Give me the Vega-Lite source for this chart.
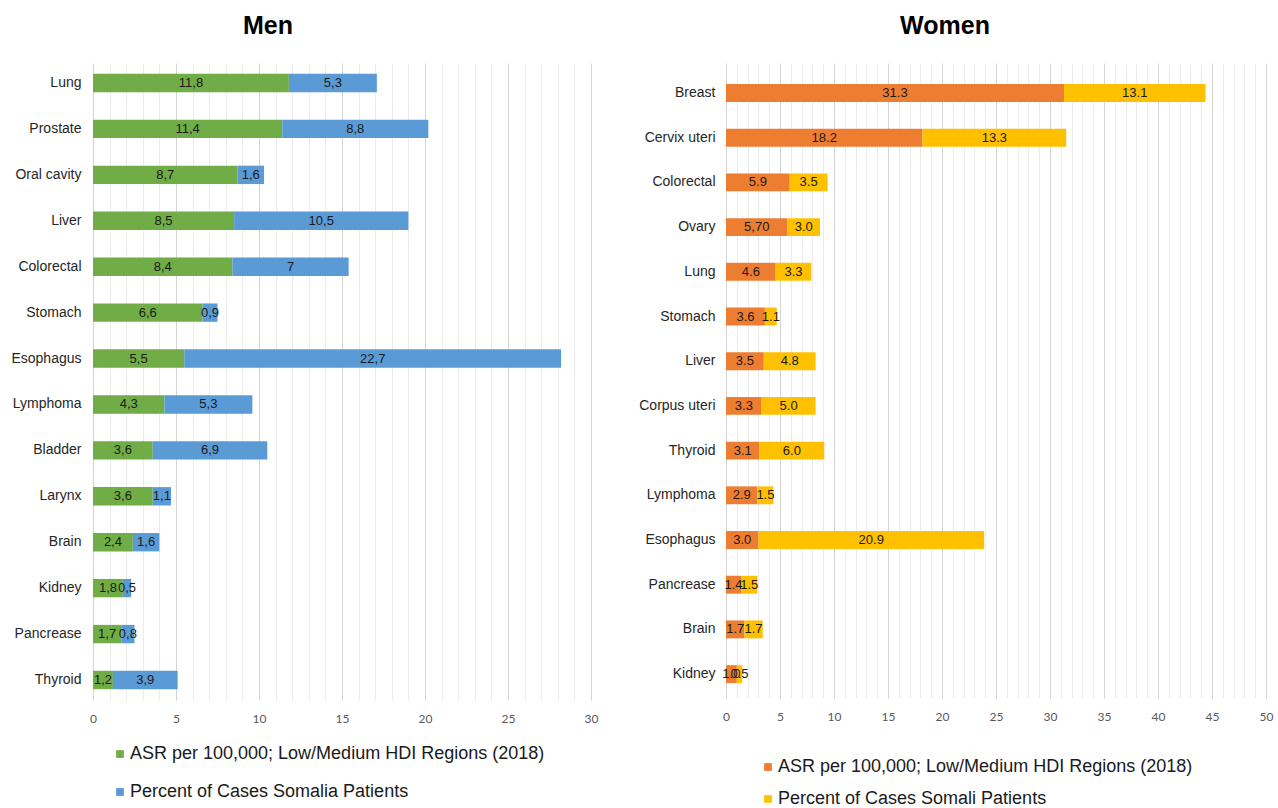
{
  "$schema": "https://vega.github.io/schema/vega-lite/v6.json",
  "background": "white",
  "padding": {"left": 5, "top": 14, "right": 5, "bottom": 5},
  "datasets": {
    "men": [
      {"cancer": "Lung", "series": "ASR per 100,000; Low/Medium HDI Regions (2018)", "ord": 0, "value": 11.8, "label": "11,8"},
      {"cancer": "Lung", "series": "Percent of Cases Somalia Patients", "ord": 1, "value": 5.3, "label": "5,3"},
      {"cancer": "Prostate", "series": "ASR per 100,000; Low/Medium HDI Regions (2018)", "ord": 0, "value": 11.4, "label": "11,4"},
      {"cancer": "Prostate", "series": "Percent of Cases Somalia Patients", "ord": 1, "value": 8.8, "label": "8,8"},
      {"cancer": "Oral cavity", "series": "ASR per 100,000; Low/Medium HDI Regions (2018)", "ord": 0, "value": 8.7, "label": "8,7"},
      {"cancer": "Oral cavity", "series": "Percent of Cases Somalia Patients", "ord": 1, "value": 1.6, "label": "1,6"},
      {"cancer": "Liver", "series": "ASR per 100,000; Low/Medium HDI Regions (2018)", "ord": 0, "value": 8.5, "label": "8,5"},
      {"cancer": "Liver", "series": "Percent of Cases Somalia Patients", "ord": 1, "value": 10.5, "label": "10,5"},
      {"cancer": "Colorectal", "series": "ASR per 100,000; Low/Medium HDI Regions (2018)", "ord": 0, "value": 8.4, "label": "8,4"},
      {"cancer": "Colorectal", "series": "Percent of Cases Somalia Patients", "ord": 1, "value": 7, "label": "7"},
      {"cancer": "Stomach", "series": "ASR per 100,000; Low/Medium HDI Regions (2018)", "ord": 0, "value": 6.6, "label": "6,6"},
      {"cancer": "Stomach", "series": "Percent of Cases Somalia Patients", "ord": 1, "value": 0.9, "label": "0,9"},
      {"cancer": "Esophagus", "series": "ASR per 100,000; Low/Medium HDI Regions (2018)", "ord": 0, "value": 5.5, "label": "5,5"},
      {"cancer": "Esophagus", "series": "Percent of Cases Somalia Patients", "ord": 1, "value": 22.7, "label": "22,7"},
      {"cancer": "Lymphoma", "series": "ASR per 100,000; Low/Medium HDI Regions (2018)", "ord": 0, "value": 4.3, "label": "4,3"},
      {"cancer": "Lymphoma", "series": "Percent of Cases Somalia Patients", "ord": 1, "value": 5.3, "label": "5,3"},
      {"cancer": "Bladder", "series": "ASR per 100,000; Low/Medium HDI Regions (2018)", "ord": 0, "value": 3.6, "label": "3,6"},
      {"cancer": "Bladder", "series": "Percent of Cases Somalia Patients", "ord": 1, "value": 6.9, "label": "6,9"},
      {"cancer": "Larynx", "series": "ASR per 100,000; Low/Medium HDI Regions (2018)", "ord": 0, "value": 3.6, "label": "3,6"},
      {"cancer": "Larynx", "series": "Percent of Cases Somalia Patients", "ord": 1, "value": 1.1, "label": "1,1"},
      {"cancer": "Brain", "series": "ASR per 100,000; Low/Medium HDI Regions (2018)", "ord": 0, "value": 2.4, "label": "2,4"},
      {"cancer": "Brain", "series": "Percent of Cases Somalia Patients", "ord": 1, "value": 1.6, "label": "1,6"},
      {"cancer": "Kidney", "series": "ASR per 100,000; Low/Medium HDI Regions (2018)", "ord": 0, "value": 1.8, "label": "1,8"},
      {"cancer": "Kidney", "series": "Percent of Cases Somalia Patients", "ord": 1, "value": 0.5, "label": "0,5"},
      {"cancer": "Pancrease", "series": "ASR per 100,000; Low/Medium HDI Regions (2018)", "ord": 0, "value": 1.7, "label": "1,7"},
      {"cancer": "Pancrease", "series": "Percent of Cases Somalia Patients", "ord": 1, "value": 0.8, "label": "0,8"},
      {"cancer": "Thyroid", "series": "ASR per 100,000; Low/Medium HDI Regions (2018)", "ord": 0, "value": 1.2, "label": "1,2"},
      {"cancer": "Thyroid", "series": "Percent of Cases Somalia Patients", "ord": 1, "value": 3.9, "label": "3,9"}
    ],
    "women": [
      {"cancer": "Breast", "series": "ASR per 100,000; Low/Medium HDI Regions (2018) ", "ord": 0, "value": 31.3, "label": "31.3"},
      {"cancer": "Breast", "series": "Percent of Cases Somali Patients", "ord": 1, "value": 13.1, "label": "13.1"},
      {"cancer": "Cervix uteri", "series": "ASR per 100,000; Low/Medium HDI Regions (2018) ", "ord": 0, "value": 18.2, "label": "18.2"},
      {"cancer": "Cervix uteri", "series": "Percent of Cases Somali Patients", "ord": 1, "value": 13.3, "label": "13.3"},
      {"cancer": "Colorectal", "series": "ASR per 100,000; Low/Medium HDI Regions (2018) ", "ord": 0, "value": 5.9, "label": "5.9"},
      {"cancer": "Colorectal", "series": "Percent of Cases Somali Patients", "ord": 1, "value": 3.5, "label": "3.5"},
      {"cancer": "Ovary", "series": "ASR per 100,000; Low/Medium HDI Regions (2018) ", "ord": 0, "value": 5.7, "label": "5,70"},
      {"cancer": "Ovary", "series": "Percent of Cases Somali Patients", "ord": 1, "value": 3.0, "label": "3.0"},
      {"cancer": "Lung", "series": "ASR per 100,000; Low/Medium HDI Regions (2018) ", "ord": 0, "value": 4.6, "label": "4.6"},
      {"cancer": "Lung", "series": "Percent of Cases Somali Patients", "ord": 1, "value": 3.3, "label": "3.3"},
      {"cancer": "Stomach", "series": "ASR per 100,000; Low/Medium HDI Regions (2018) ", "ord": 0, "value": 3.6, "label": "3.6"},
      {"cancer": "Stomach", "series": "Percent of Cases Somali Patients", "ord": 1, "value": 1.1, "label": "1.1"},
      {"cancer": "Liver", "series": "ASR per 100,000; Low/Medium HDI Regions (2018) ", "ord": 0, "value": 3.5, "label": "3.5"},
      {"cancer": "Liver", "series": "Percent of Cases Somali Patients", "ord": 1, "value": 4.8, "label": "4.8"},
      {"cancer": "Corpus uteri", "series": "ASR per 100,000; Low/Medium HDI Regions (2018) ", "ord": 0, "value": 3.3, "label": "3.3"},
      {"cancer": "Corpus uteri", "series": "Percent of Cases Somali Patients", "ord": 1, "value": 5.0, "label": "5.0"},
      {"cancer": "Thyroid", "series": "ASR per 100,000; Low/Medium HDI Regions (2018) ", "ord": 0, "value": 3.1, "label": "3.1"},
      {"cancer": "Thyroid", "series": "Percent of Cases Somali Patients", "ord": 1, "value": 6.0, "label": "6.0"},
      {"cancer": "Lymphoma", "series": "ASR per 100,000; Low/Medium HDI Regions (2018) ", "ord": 0, "value": 2.9, "label": "2.9"},
      {"cancer": "Lymphoma", "series": "Percent of Cases Somali Patients", "ord": 1, "value": 1.5, "label": "1.5"},
      {"cancer": "Esophagus", "series": "ASR per 100,000; Low/Medium HDI Regions (2018) ", "ord": 0, "value": 3.0, "label": "3.0"},
      {"cancer": "Esophagus", "series": "Percent of Cases Somali Patients", "ord": 1, "value": 20.9, "label": "20.9"},
      {"cancer": "Pancrease", "series": "ASR per 100,000; Low/Medium HDI Regions (2018) ", "ord": 0, "value": 1.4, "label": "1.4"},
      {"cancer": "Pancrease", "series": "Percent of Cases Somali Patients", "ord": 1, "value": 1.5, "label": "1.5"},
      {"cancer": "Brain", "series": "ASR per 100,000; Low/Medium HDI Regions (2018) ", "ord": 0, "value": 1.7, "label": "1.7"},
      {"cancer": "Brain", "series": "Percent of Cases Somali Patients", "ord": 1, "value": 1.7, "label": "1.7"},
      {"cancer": "Kidney", "series": "ASR per 100,000; Low/Medium HDI Regions (2018) ", "ord": 0, "value": 1.0, "label": "1.0"},
      {"cancer": "Kidney", "series": "Percent of Cases Somali Patients", "ord": 1, "value": 0.5, "label": "0.5"}
    ]
  },
  "config": {
    "view": {"stroke": null},
    "font": "Liberation Sans, Arial, sans-serif",
    "title": {"font": "Liberation Sans, Arial, sans-serif", "fontSize": 25, "fontWeight": "bold", "color": "#000000", "anchor": "middle"},
    "axisX": {
      "domain": false, "ticks": false, "title": null,
      "labelFont": "Lato", "labelFontSize": 12, "labelColor": "#595959", "labelPadding": 13,
      "labelAngle": 0, "labelFlush": false, "labelOverlap": false,
      "gridWidth": 1
    },
    "axisY": {
      "domain": false, "ticks": false, "title": null, "grid": false,
      "labelFont": "Liberation Sans, Arial, sans-serif",
      "labelFontSize": 14, "labelColor": "#262626", "labelPadding": 12,
      "labelLimit": 200
    },
    "legend": {
      "labelFont": "Liberation Sans, Arial, sans-serif",
      "labelFontSize": 18, "labelColor": "#1a1a1a", "labelLimit": 600,
      "symbolType": "square", "symbolSize": 60, "symbolStrokeWidth": 0,
      "title": null, "labelOffset": 1, "padding": 0
    }
  },
  "bounds": "flush",
  "spacing": 135,
  "resolve": {"scale": {"color": "independent", "x": "independent", "y": "independent"}, "legend": {"color": "independent"}},
  "hconcat": [
    {
      "data": {"name": "men"},
      "width": 498,
      "height": 637,
      "title": {"text": "Men", "dx": -74, "offset": 24},
      "transform": [
        {"stack": "value", "groupby": ["cancer"], "sort": [{"field": "ord", "order": "ascending"}], "as": ["x0", "x1"]}
      ],
      "layer": [
        {
          "mark": {"type": "bar"},
          "encoding": {
            "y": {
              "field": "cancer", "type": "nominal",
              "sort": ["Lung", "Prostate", "Oral cavity", "Liver", "Colorectal", "Stomach", "Esophagus", "Lymphoma", "Bladder", "Larynx", "Brain", "Kidney", "Pancrease", "Thyroid"],
              "scale": {"paddingInner": 0.6, "paddingOuter": 0.236},
              "axis": {"minExtent": 88, "maxExtent": 88}
            },
            "x": {
              "field": "x0", "type": "quantitative",
              "scale": {"domain": [0, 30], "nice": false},
              "axis": {
                "values": [0, 1, 2, 3, 4, 5, 6, 7, 8, 9, 10, 11, 12, 13, 14, 15, 16, 17, 18, 19, 20, 21, 22, 23, 24, 25, 26, 27, 28, 29, 30],
                "labelExpr": "datum.value % 5 === 0 ? datum.label : ''",
                "gridColor": {"condition": {"test": "datum.value % 5 === 0", "value": "#d4d4d4"}, "value": "#ebebeb"}
              }
            },
            "x2": {"field": "x1"},
            "color": {
              "field": "series", "type": "nominal",
              "scale": {"domain": ["ASR per 100,000; Low/Medium HDI Regions (2018)", "Percent of Cases Somalia Patients"], "range": ["#70AD47", "#5B9BD5"]},
              "legend": {"orient": "none", "legendX": 18, "legendY": 682, "rowPadding": 20}
            }
          }
        },
        {
          "transform": [{"fold": ["x0", "x1"], "as": ["edge", "pos"]}],
          "mark": {"type": "text", "fontSize": 13, "color": "#1a1a1a", "align": "center", "baseline": "middle"},
          "encoding": {
            "y": {
              "field": "cancer", "type": "nominal",
              "sort": ["Lung", "Prostate", "Oral cavity", "Liver", "Colorectal", "Stomach", "Esophagus", "Lymphoma", "Bladder", "Larynx", "Brain", "Kidney", "Pancrease", "Thyroid"]
            },
            "x": {
              "aggregate": "mean", "field": "pos", "type": "quantitative",
              "axis": {
                "values": [0, 1, 2, 3, 4, 5, 6, 7, 8, 9, 10, 11, 12, 13, 14, 15, 16, 17, 18, 19, 20, 21, 22, 23, 24, 25, 26, 27, 28, 29, 30],
                "labelExpr": "datum.value % 5 === 0 ? datum.label : ''",
                "gridColor": {"condition": {"test": "datum.value % 5 === 0", "value": "#d4d4d4"}, "value": "#ebebeb"}
              }
            },
            "detail": {"field": "series"},
            "text": {"field": "label"}
          }
        }
      ]
    },
    {
      "data": {"name": "women"},
      "width": 540,
      "height": 635,
      "title": {"text": "Women", "dx": -51, "offset": 24},
      "transform": [
        {"stack": "value", "groupby": ["cancer"], "sort": [{"field": "ord", "order": "ascending"}], "as": ["x0", "x1"]}
      ],
      "layer": [
        {
          "mark": {"type": "bar"},
          "encoding": {
            "y": {
              "field": "cancer", "type": "nominal",
              "sort": ["Breast", "Cervix uteri", "Colorectal", "Ovary", "Lung", "Stomach", "Liver", "Corpus uteri", "Thyroid", "Lymphoma", "Esophagus", "Pancrease", "Brain", "Kidney"],
              "scale": {"paddingInner": 0.6, "paddingOuter": 0.403, "align": 0.585},
              "axis": {"minExtent": 88, "maxExtent": 88, "labelPadding": 11}
            },
            "x": {
              "field": "x0", "type": "quantitative",
              "scale": {"domain": [0, 50], "nice": false},
              "axis": {
                "values": [0, 1, 2, 3, 4, 5, 6, 7, 8, 9, 10, 11, 12, 13, 14, 15, 16, 17, 18, 19, 20, 21, 22, 23, 24, 25, 26, 27, 28, 29, 30, 31, 32, 33, 34, 35, 36, 37, 38, 39, 40, 41, 42, 43, 44, 45, 46, 47, 48, 49, 50],
                "labelExpr": "datum.value % 5 === 0 ? datum.label : ''",
                "gridColor": {"condition": {"test": "datum.value % 5 === 0", "value": "#d4d4d4"}, "value": "#ebebeb"}
              }
            },
            "x2": {"field": "x1"},
            "color": {
              "field": "series", "type": "nominal",
              "scale": {"domain": ["ASR per 100,000; Low/Medium HDI Regions (2018) ", "Percent of Cases Somali Patients"], "range": ["#ED7D31", "#FFC000"]},
              "legend": {"orient": "none", "legendX": 33, "legendY": 695, "rowPadding": 14}
            }
          }
        },
        {
          "transform": [{"fold": ["x0", "x1"], "as": ["edge", "pos"]}],
          "mark": {"type": "text", "fontSize": 13, "color": "#1a1a1a", "align": "center", "baseline": "middle"},
          "encoding": {
            "y": {
              "field": "cancer", "type": "nominal",
              "sort": ["Breast", "Cervix uteri", "Colorectal", "Ovary", "Lung", "Stomach", "Liver", "Corpus uteri", "Thyroid", "Lymphoma", "Esophagus", "Pancrease", "Brain", "Kidney"]
            },
            "x": {
              "aggregate": "mean", "field": "pos", "type": "quantitative",
              "axis": {
                "values": [0, 1, 2, 3, 4, 5, 6, 7, 8, 9, 10, 11, 12, 13, 14, 15, 16, 17, 18, 19, 20, 21, 22, 23, 24, 25, 26, 27, 28, 29, 30, 31, 32, 33, 34, 35, 36, 37, 38, 39, 40, 41, 42, 43, 44, 45, 46, 47, 48, 49, 50],
                "labelExpr": "datum.value % 5 === 0 ? datum.label : ''",
                "gridColor": {"condition": {"test": "datum.value % 5 === 0", "value": "#d4d4d4"}, "value": "#ebebeb"}
              }
            },
            "detail": {"field": "series"},
            "text": {"field": "label"}
          }
        }
      ]
    }
  ]
}
